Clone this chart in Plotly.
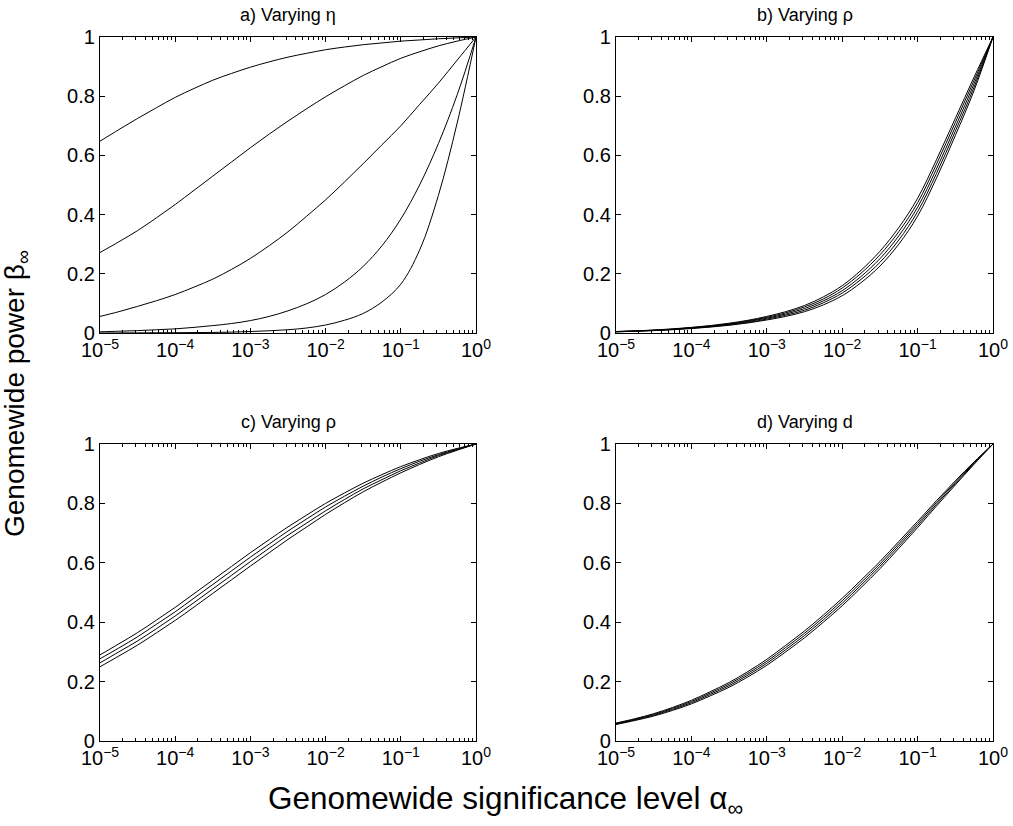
import plotly.graph_objects as go

# significance level alpha (x values, log axis), quarter-decade steps 1e-5 .. 1
alpha = [1e-5, 1.778e-5, 3.162e-5, 5.623e-5,
         1e-4, 1.778e-4, 3.162e-4, 5.623e-4,
         1e-3, 1.778e-3, 3.162e-3, 5.623e-3,
         1e-2, 1.778e-2, 3.162e-2, 5.623e-2,
         1e-1, 0.1778, 0.3162, 0.5623, 1.0]

# a) Varying eta
a1 = [0.648, 0.687, 0.725, 0.761, 0.796, 0.826, 0.854, 0.877, 0.898, 0.916, 0.932,
      0.945, 0.957, 0.966, 0.974, 0.980, 0.986, 0.990, 0.994, 0.997, 1.0]
a2 = [0.272, 0.308, 0.346, 0.389, 0.434, 0.482, 0.530, 0.578, 0.626, 0.672, 0.716,
      0.758, 0.798, 0.835, 0.870, 0.900, 0.928, 0.950, 0.970, 0.986, 1.0]
a3 = [0.056, 0.072, 0.090, 0.109, 0.130, 0.155, 0.182, 0.215, 0.252, 0.295, 0.342,
      0.395, 0.450, 0.510, 0.572, 0.636, 0.700, 0.772, 0.844, 0.922, 1.0]
a4 = [0.004, 0.006, 0.008, 0.011, 0.014, 0.019, 0.025, 0.032, 0.042, 0.056, 0.075,
      0.099, 0.130, 0.172, 0.225, 0.295, 0.385, 0.500, 0.640, 0.805, 1.0]
a5 = [0.000, 0.0003, 0.0005, 0.0008, 0.001, 0.0015, 0.002, 0.003, 0.005, 0.0075, 0.011,
      0.017, 0.027, 0.043, 0.066, 0.105, 0.165, 0.280, 0.465, 0.710, 1.0]

# b) Varying rho
b1 = [0.005, 0.007, 0.010, 0.014, 0.019, 0.025, 0.033, 0.043, 0.056, 0.072, 0.093,
      0.122, 0.160, 0.212, 0.276, 0.356, 0.455, 0.585, 0.725, 0.865, 1.0]
b2 = [0.005, 0.007, 0.0095, 0.013, 0.018, 0.024, 0.031, 0.041, 0.053, 0.068, 0.088,
      0.115, 0.152, 0.202, 0.264, 0.342, 0.440, 0.570, 0.711, 0.854, 1.0]
b3 = [0.0045, 0.0065, 0.009, 0.0125, 0.017, 0.0225, 0.0295, 0.0385, 0.050, 0.064, 0.0825,
      0.1085, 0.143, 0.191, 0.251, 0.328, 0.425, 0.554, 0.696, 0.8425, 1.0]
b4 = [0.004, 0.006, 0.0085, 0.012, 0.016, 0.021, 0.028, 0.036, 0.047, 0.060, 0.077,
      0.102, 0.135, 0.181, 0.2385, 0.314, 0.410, 0.5385, 0.6815, 0.831, 1.0]
b5 = [0.004, 0.006, 0.008, 0.011, 0.015, 0.020, 0.026, 0.034, 0.044, 0.056, 0.072,
      0.095, 0.126, 0.170, 0.226, 0.300, 0.395, 0.523, 0.667, 0.820, 1.0]

# c) Varying rho
c1 = [0.290, 0.327, 0.365, 0.407, 0.450, 0.496, 0.542, 0.588, 0.634, 0.678, 0.721,
      0.761, 0.800, 0.835, 0.868, 0.897, 0.924, 0.947, 0.968, 0.985, 1.0]
c2 = [0.277, 0.313, 0.351, 0.393, 0.435, 0.481, 0.527, 0.573, 0.619, 0.663, 0.707,
      0.748, 0.788, 0.824, 0.858, 0.889, 0.917, 0.942, 0.964, 0.983, 1.0]
c3 = [0.263, 0.300, 0.337, 0.378, 0.421, 0.466, 0.512, 0.558, 0.604, 0.649, 0.693,
      0.734, 0.775, 0.813, 0.849, 0.880, 0.910, 0.936, 0.961, 0.981, 1.0]
c4 = [0.250, 0.286, 0.323, 0.364, 0.406, 0.451, 0.497, 0.543, 0.589, 0.634, 0.679,
      0.721, 0.763, 0.802, 0.839, 0.872, 0.903, 0.931, 0.957, 0.979, 1.0]

# d) Varying d
d1 = [0.0605, 0.075, 0.092, 0.113, 0.137, 0.166, 0.197, 0.234, 0.275, 0.322, 0.3705,
      0.424, 0.4805, 0.5415, 0.604, 0.6715, 0.7395, 0.809, 0.876, 0.940, 1.0]
d2 = [0.0588, 0.073, 0.0893, 0.1097, 0.133, 0.1613, 0.1917, 0.228, 0.2683, 0.3147, 0.3628,
      0.416, 0.4722, 0.5332, 0.596, 0.6638, 0.7325, 0.803, 0.8713, 0.9373, 1.0]
d3 = [0.0572, 0.071, 0.0867, 0.1063, 0.129, 0.1567, 0.1863, 0.222, 0.2617, 0.3073, 0.3552,
      0.408, 0.4638, 0.5248, 0.588, 0.6562, 0.7255, 0.797, 0.8667, 0.9347, 1.0]
d4 = [0.0555, 0.069, 0.084, 0.103, 0.125, 0.152, 0.181, 0.216, 0.255, 0.300, 0.3475,
      0.400, 0.4555, 0.5165, 0.580, 0.6485, 0.7185, 0.791, 0.862, 0.932, 1.0]

panels = [
    ("a) Varying η", [a1, a2, a3, a4, a5]),
    ("b) Varying ρ", [b1, b2, b3, b4, b5]),
    ("c) Varying ρ", [c1, c2, c3, c4]),
    ("d) Varying d", [d1, d2, d3, d4]),
]

y_tickvals = [0, 0.2, 0.4, 0.6, 0.8, 1]
y_ticktext = ["0", "0.2", "0.4", "0.6", "0.8", "1"]

W, H = 1013, 826
FONT = "Liberation Sans, Arial, Helvetica, sans-serif"

# plot-area pixel boxes (left, right, top, bottom)
boxes = [(100, 476, 37, 333), (616, 993, 37, 333),
         (100, 476, 444, 741), (616, 993, 444, 741)]

fig = go.Figure()
layout = dict(
    width=W, height=H, margin=dict(l=0, r=0, t=0, b=0, autoexpand=False),
    paper_bgcolor="white", plot_bgcolor="white", showlegend=False,
    font=dict(family=FONT, color="black"),
)
annotations = []
for i, ((title, curves), (l, r, t, b)) in enumerate(zip(panels, boxes)):
    sfx = "" if i == 0 else str(i + 1)
    for ys in curves:
        fig.add_trace(go.Scatter(
            x=alpha, y=ys, mode="lines", xaxis="x" + sfx, yaxis="y" + sfx,
            line=dict(color="black", width=1, shape="spline", smoothing=1.0),
            hoverinfo="skip"))
    layout["xaxis" + sfx] = dict(
        type="log", range=[-5, 0], domain=[l / W, r / W], anchor="y" + sfx,
        automargin=False,
        showline=True, linecolor="black", linewidth=1.3, mirror="allticks",
        ticks="inside", ticklen=5, tickcolor="black", tickwidth=1,
        dtick=1, tick0=0, exponentformat="power", labelalias={"1": "10<sup>0</sup>"},
        showgrid=False, zeroline=False, tickfont=dict(size=16, family=FONT),
        minor=dict(ticks="inside", ticklen=3, tickcolor="black", dtick="D1",
                   showgrid=False),
    )
    layout["yaxis" + sfx] = dict(
        range=[0, 1], domain=[1 - b / H, 1 - t / H], anchor="x" + sfx,
        automargin=False,
        showline=True, linecolor="black", linewidth=1.3, mirror="allticks",
        ticks="inside", ticklen=5, tickcolor="black", tickwidth=1,
        tickvals=y_tickvals, ticktext=y_ticktext,
        showgrid=False, zeroline=False, tickfont=dict(size=20, family=FONT),
    )
    annotations.append(dict(
        text=title, x=(l + r) / 2 / W, y=1 - (t - 22) / H, xref="paper", yref="paper",
        xanchor="center", yanchor="middle", showarrow=False,
        font=dict(size=18, family=FONT)))

annotations.append(dict(
    text="Genomewide power β<sub>∞</sub>", x=16 / W, y=1 - 394 / H,
    xref="paper", yref="paper", xanchor="center", yanchor="middle",
    textangle=-90, showarrow=False, font=dict(size=28, family=FONT)))
annotations.append(dict(
    text="Genomewide significance level α<sub>∞</sub>", x=505 / W, y=1 - 800 / H,
    xref="paper", yref="paper", xanchor="center", yanchor="middle",
    showarrow=False, font=dict(size=31.5, family=FONT)))

layout["annotations"] = annotations
fig.update_layout(**layout)
fig.write_html("out.html", config={"displayModeBar": False},
               post_script="document.body.style.margin='0px';"
                           "document.body.style.overflow='hidden';")
